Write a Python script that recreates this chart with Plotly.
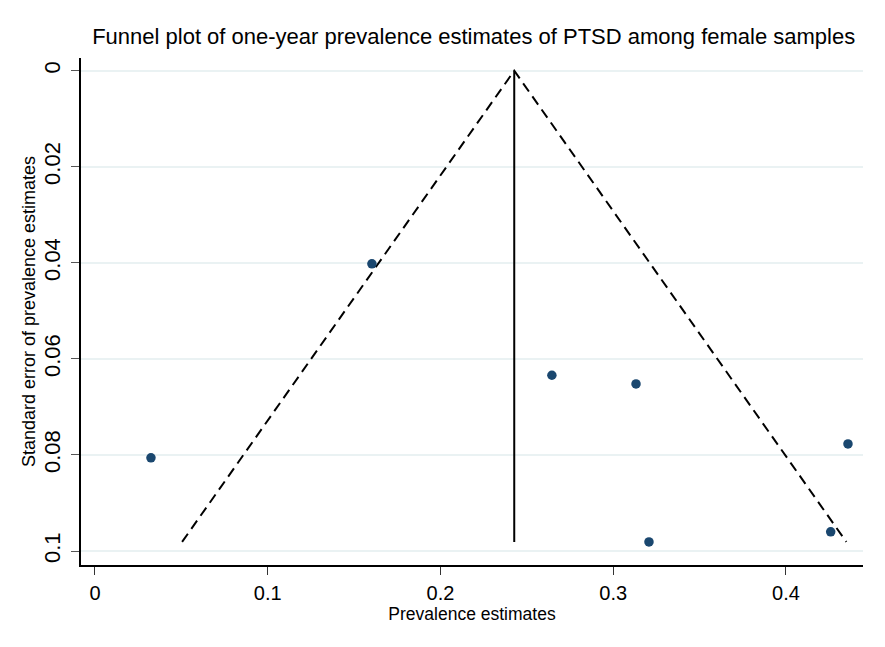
import plotly.graph_objects as go

prevalence = [0.0324, 0.1603, 0.2645, 0.3132, 0.3207, 0.4259, 0.4359]
std_error = [0.0806, 0.0402, 0.0634, 0.0652, 0.0981, 0.0960, 0.0777]
pooled = 0.2427
se_max = 0.0981
z = 1.96

x_ticks = [0, 0.1, 0.2, 0.3, 0.4]
x_tick_labels = ["0", "0.1", "0.2", "0.3", "0.4"]
y_ticks = [0, 0.02, 0.04, 0.06, 0.08, 0.1]
y_tick_labels = ["0", "0.02", "0.04", "0.06", "0.08", "0.1"]

fig = go.Figure()
fig.add_trace(go.Scatter(
    x=[pooled - z * se_max, pooled, pooled + z * se_max],
    y=[se_max, 0, se_max],
    mode="lines", line=dict(color="black", width=2, dash="10px,6px"),
    showlegend=False, hoverinfo="skip"))
fig.add_trace(go.Scatter(
    x=[pooled, pooled], y=[0, se_max],
    mode="lines", line=dict(color="black", width=2),
    showlegend=False, hoverinfo="skip"))
fig.add_trace(go.Scatter(
    x=prevalence, y=std_error, mode="markers",
    marker=dict(color="#1a476f", size=9.5),
    showlegend=False))

font = "Liberation Sans, Arial, sans-serif"
fig.update_layout(
    width=877, height=639,
    margin=dict(l=73, r=22, t=50, b=82),
    paper_bgcolor="white", plot_bgcolor="white",
    font=dict(family=font, color="black"),
    title=dict(text="Funnel plot of one-year prevalence estimates of PTSD among female samples",
               x=0.531, xanchor="center", y=0.956, yanchor="middle",
               font=dict(size=22, family=font, color="black")),
    xaxis=dict(range=[-0.0081, 0.4446], tickvals=x_ticks, ticktext=x_tick_labels,
               showgrid=False, zeroline=False, showline=True, linecolor="black", linewidth=1.5,
               ticks="outside", ticklen=8, tickcolor="#333", tickwidth=1.3, automargin=False,
               ticklabelstandoff=1,
               tickfont=dict(size=20), title=dict(text="Prevalence estimates", font=dict(size=17.5), standoff=4)),
    yaxis=dict(range=[0.1029, -0.00264], tickvals=y_ticks, ticktext=y_tick_labels,
               showgrid=True, gridcolor="#eaf2f3", gridwidth=2, zeroline=False,
               showline=True, linecolor="black", linewidth=1.5, automargin=False,
               ticks="outside", ticklen=8, tickcolor="#555", tickwidth=1.3, tickangle=-90,
               ticklabelstandoff=2,
               tickfont=dict(size=22),
               title=dict(text="Standard error of prevalence estimates", font=dict(size=18), standoff=0)),
)
fig.write_html("out.html")
